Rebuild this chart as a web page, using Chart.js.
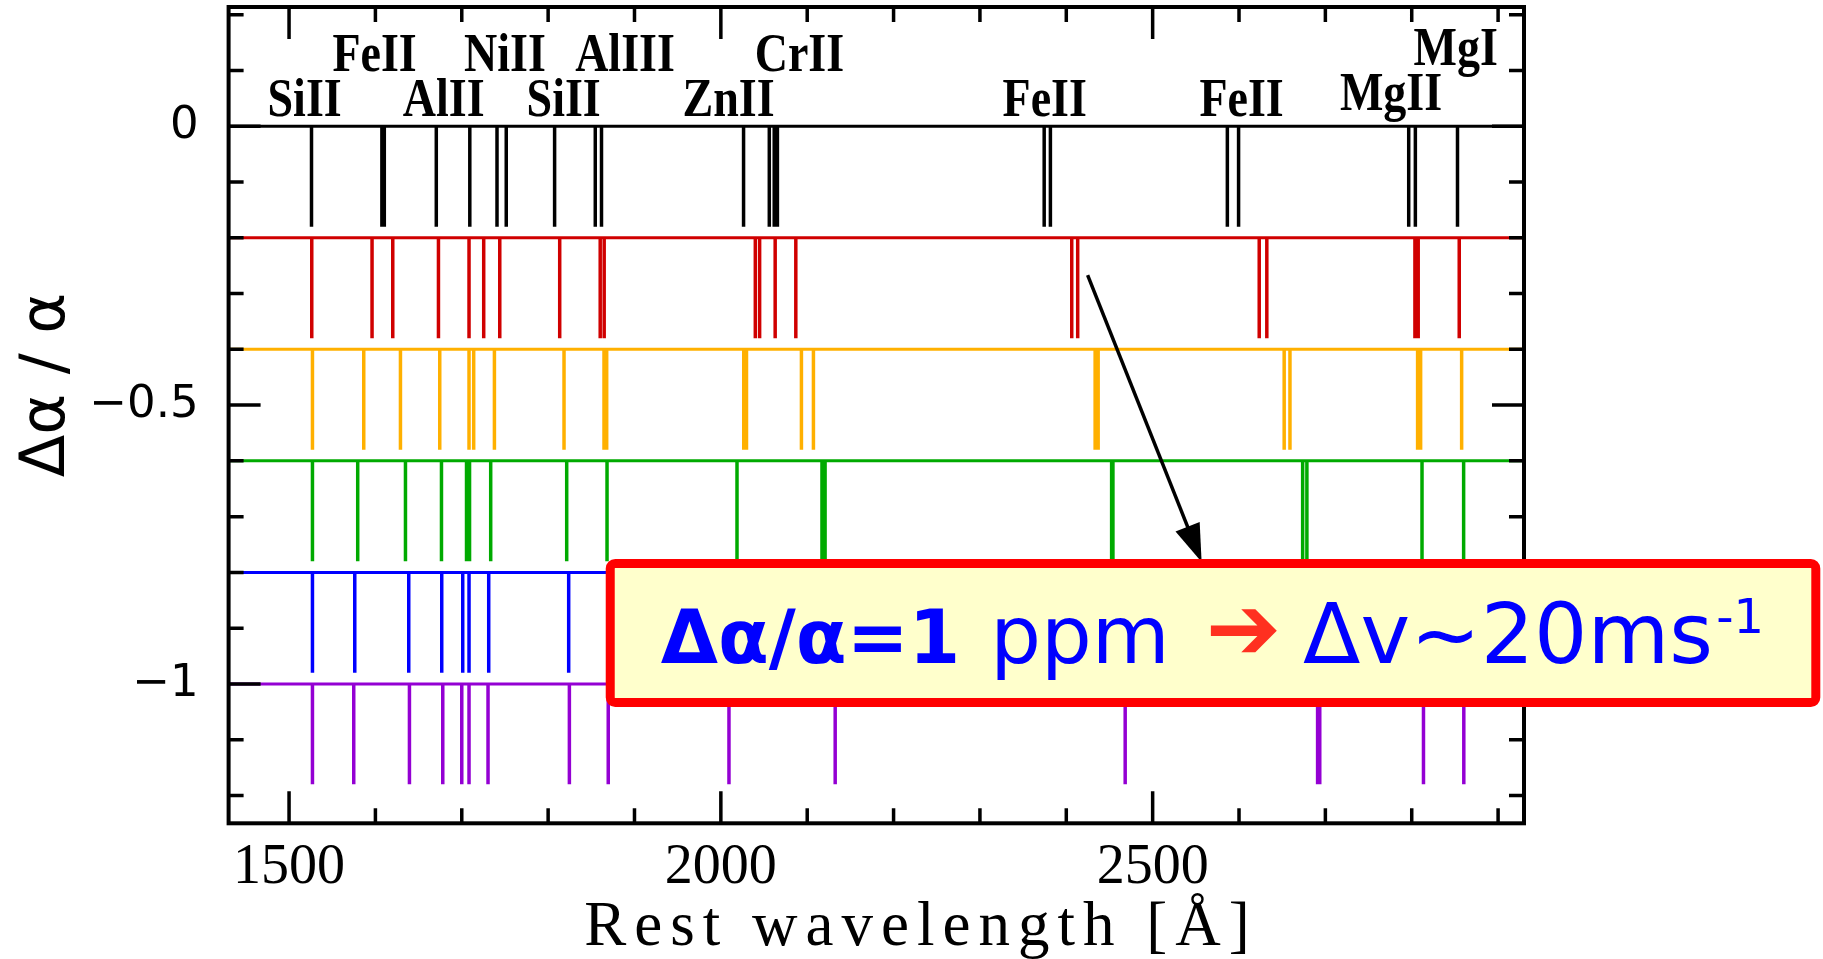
<!DOCTYPE html>
<html>
<head>
<meta charset="utf-8">
<title>Δα/α line shifts</title>
<script src="https://cdn.jsdelivr.net/npm/chart.js@4.4.1/dist/chart.umd.min.js"></script>
<style>
  html, body { margin: 0; padding: 0; background: #ffffff; }
  canvas { display: block; }
</style>
</head>
<body>
<canvas id="grafico" width="1823" height="959"></canvas>
<script>
// Filas: valor de Δα/α de cada espectro y color con que se dibuja
const desplazamientos = [0, -0.2, -0.4, -0.6, -0.8, -1.0];
const coloresFila = ['#000000', '#d00000', '#ffb000', '#00aa00', '#0000ff', '#9400d3'];
const profundidad = 0.18;

// Posiciones (Å) de las líneas de absorción en cada fila
const lineasFila0 = [1526.0, 1607.5, 1610.3, 1670.5, 1709.3, 1740.8, 1751.5, 1807.5, 1854.6, 1861.8, 2026.3, 2056.1, 2061.8, 2065.5, 2374.4, 2381.6, 2586.5, 2599.5, 2796.5, 2804.2, 2853.0];
const lineasFila1 = [1526.3, 1596.1, 1620.1, 1673.0, 1708.4, 1725.4, 1744.0, 1813.4, 1860.3, 1864.9, 2039.9, 2044.9, 2062.9, 2086.8, 2406.3, 2413.2, 2623.4, 2632.2, 2803.7, 2807.5, 2855.0];
const lineasFila2 = [1527.1, 1586.5, 1629.0, 1674.5, 1708.4, 1713.8, 1737.8, 1818.4, 1864.7, 1867.8, 2026.5, 2029.7, 2093.3, 2107.2, 2433.4, 2436.9, 2652.3, 2659.0, 2806.8, 2810.3, 2857.8];
const lineasFila3 = [1527.1, 1579.5, 1634.8, 1676.5, 1705.5, 1709.0, 1733.5, 1821.5, 1868.2, 2018.7, 2117.1, 2120.7, 2452.5, 2454.0, 2673.7, 2678.6, 2811.9, 2860.1];
const lineasFila4 = [1527.1, 1576.1, 1638.6, 1676.8, 1701.1, 1708.4, 1731.2, 1823.8];
const lineasFila5 = [1527.1, 1574.9, 1639.4, 1678.0, 1700.0, 1708.4, 1730.4, 1824.6, 1869.6, 2009.4, 2132.4, 2468.2, 2691.0, 2693.5, 2813.6, 2860.3];
const filas = [lineasFila0, lineasFila1, lineasFila2, lineasFila3, lineasFila4, lineasFila5];

// Nombres de los iones encima del espectro de referencia
const iones = ['SiII', 'FeII', 'AlII', 'NiII', 'SiII', 'AlIII', 'ZnII', 'CrII', 'FeII', 'FeII', 'MgII', 'MgI'];
const ionesX = [1518, 1599, 1679, 1750, 1818, 1889, 2009, 2091, 2375, 2603, 2776, 2851];
const ionesY = [0.019, 0.099, 0.019, 0.099, 0.019, 0.099, 0.019, 0.099, 0.019, 0.019, 0.029, 0.110];

// Ejes
const xMin = 1430, xMax = 2930;
const yMin = -1.25, yMax = 0.214;
const xMarcas = [1500, 2000, 2500];
const xMarcasMenores = [1500, 1600, 1700, 1800, 1900, 2000, 2100, 2200, 2300, 2400, 2500, 2600, 2700, 2800, 2900];
const yMarcas = [0, -0.5, -1];
const yMarcasMenores = [0.2, 0.1, 0, -0.1, -0.2, -0.3, -0.4, -0.5, -0.6, -0.7, -0.8, -0.9, -1, -1.1, -1.2];

const datasets = [];
filas.forEach((lineas, i) => {
    const y0 = desplazamientos[i];
    datasets.push({
        data: [{ x: xMin, y: y0 }, { x: xMax, y: y0 }],
        borderColor: coloresFila[i],
        borderWidth: 3,
        showLine: true,
        pointRadius: 0
    });
    const puntos = [];
    lineas.forEach(l => {
        puntos.push({ x: l, y: y0 }, { x: l, y: y0 - profundidad }, { x: l, y: null });
    });
    datasets.push({
        data: puntos,
        borderColor: coloresFila[i],
        borderWidth: 3.5,
        showLine: true,
        spanGaps: false,
        pointRadius: 0
    });
});

// Marco con marcas hacia dentro en los cuatro lados
const pluginMarco = {
    id: 'marco',
    afterDatasetsDraw: (chart) => {
        const { ctx, chartArea: { left, right, top, bottom }, scales: { x, y } } = chart;
        ctx.save();
        ctx.strokeStyle = '#000';
        ctx.lineWidth = 3.5;
        ctx.beginPath();
        xMarcasMenores.forEach(v => {
            const px = x.getPixelForValue(v);
            const largo = xMarcas.includes(v) ? 32 : 15;
            ctx.moveTo(px, bottom); ctx.lineTo(px, bottom - largo);
            ctx.moveTo(px, top); ctx.lineTo(px, top + largo);
        });
        yMarcasMenores.forEach(v => {
            const py = y.getPixelForValue(v);
            const largo = yMarcas.includes(v) ? 32 : 15;
            ctx.moveTo(left, py); ctx.lineTo(left + largo, py);
            ctx.moveTo(right, py); ctx.lineTo(right - largo, py);
        });
        ctx.stroke();
        ctx.lineWidth = 4;
        ctx.strokeRect(left, top, right - left, bottom - top);
        ctx.restore();
    }
};

// Etiquetas, títulos, flecha y recuadro
const pluginAnotaciones = {
    id: 'anotaciones',
    afterDraw: (chart) => {
        const { ctx, scales: { x, y } } = chart;
        ctx.save();
        ctx.fillStyle = '#000';

        // iones
        ctx.font = 'bold 46px "Liberation Serif"';
        ctx.textAlign = 'center';
        ctx.textBaseline = 'alphabetic';
        iones.forEach((nombre, i) => {
            ctx.save();
            ctx.translate(x.getPixelForValue(ionesX[i]), y.getPixelForValue(ionesY[i]));
            ctx.scale(1, 1.18);
            ctx.fillText(nombre, 0, 0);
            ctx.restore();
        });

        // título eje y
        ctx.save();
        ctx.translate(48, 385);
        ctx.rotate(-Math.PI / 2);
        ctx.font = '62px "DejaVu Sans"';
        ctx.textBaseline = 'middle';
        ctx.fillText('Δα / α', 0, 0);
        ctx.restore();

        // título eje x
        ctx.save();
        ctx.font = '63px "Liberation Serif"';
        ctx.letterSpacing = '8px';
        ctx.textAlign = 'center';
        ctx.fillText('Rest wavelength [Å]', 921, 945);
        ctx.restore();

        // flecha
        const ax0 = x.getPixelForValue(2424.7), ay0 = y.getPixelForValue(-0.2667);
        const ax1 = x.getPixelForValue(2556.7), ay1 = y.getPixelForValue(-0.7815);
        const d = Math.hypot(ax1 - ax0, ay1 - ay0);
        const ux = (ax1 - ax0) / d, uy = (ay1 - ay0) / d;
        ctx.strokeStyle = '#000';
        ctx.lineWidth = 3.5;
        ctx.beginPath();
        ctx.moveTo(ax0, ay0);
        ctx.lineTo(ax1 - 30 * ux, ay1 - 30 * uy);
        ctx.stroke();
        const bx = ax1 - 38 * ux, by = ay1 - 38 * uy;
        ctx.beginPath();
        ctx.moveTo(ax1, ay1);
        ctx.lineTo(bx - 13 * uy, by + 13 * ux);
        ctx.lineTo(bx + 13 * uy, by - 13 * ux);
        ctx.closePath();
        ctx.fill();

        // recuadro
        const bl = x.getPixelForValue(1866.7), br = x.getPixelForValue(3273.1);
        const bt = y.getPixelForValue(-0.776), bb = y.getPixelForValue(-1.0414);
        ctx.beginPath();
        ctx.roundRect(bl + 4.5, bt + 4.5, br - bl - 9, bb - bt - 9, 5);
        ctx.fillStyle = '#ffffcc';
        ctx.fill();
        ctx.lineWidth = 9;
        ctx.strokeStyle = '#ff0000';
        ctx.stroke();

        ctx.textAlign = 'left';
        ctx.textBaseline = 'alphabetic';
        ctx.fillStyle = '#0000ff';
        const base = bt + 104;
        let cx = bl + 55;
        ctx.font = 'bold 74px "DejaVu Sans"';
        ctx.fillText('Δα/α=1', cx, base);
        cx += ctx.measureText('Δα/α=1').width + 30;
        ctx.font = '80px "DejaVu Sans"';
        ctx.fillText('ppm', cx, base);
        cx += ctx.measureText('ppm').width + 36;
        ctx.fillStyle = '#ff3020';
        ctx.font = '90px "DejaVu Sans"';
        ctx.textBaseline = 'middle';
        ctx.fillText('➔', cx, base - 27);
        cx += ctx.measureText('➔').width + 22;
        ctx.textBaseline = 'alphabetic';
        ctx.fillStyle = '#0000ff';
        ctx.font = '84px "DejaVu Sans"';
        ctx.fillText('Δv~20ms', cx, base);
        cx += ctx.measureText('Δv~20ms').width + 3;
        ctx.font = '48px "DejaVu Sans"';
        ctx.fillText('-1', cx, base - 30);
        ctx.restore();
    }
};

const ctx = document.getElementById('grafico').getContext('2d');
new Chart(ctx, {
    type: 'scatter',
    data: { datasets: datasets },
    plugins: [pluginMarco, pluginAnotaciones],
    options: {
        responsive: false,
        animation: false,
        devicePixelRatio: 1,
        layout: { padding: { left: 0, right: 299, top: 7, bottom: 0 } },
        plugins: { legend: { display: false }, tooltip: { enabled: false } },
        scales: {
            x: {
                type: 'linear',
                min: xMin,
                max: xMax,
                afterBuildTicks: (s) => { s.ticks = xMarcas.map(v => ({ value: v })); },
                afterFit: (s) => { s.height = 135.7; s.paddingLeft = 0; s.paddingRight = 0; },
                grid: { display: false, drawTicks: false },
                border: { display: false },
                ticks: {
                    color: '#000',
                    padding: 11,
                    maxRotation: 0,
                    autoSkip: false,
                    font: { family: 'Liberation Serif', size: 56 },
                    callback: (v) => String(v)
                }
            },
            y: {
                type: 'linear',
                min: yMin,
                max: yMax,
                afterBuildTicks: (s) => { s.ticks = yMarcas.map(v => ({ value: v })); },
                afterFit: (s) => { s.width = 228.6; s.paddingTop = 0; s.paddingBottom = 0; },
                grid: { display: false, drawTicks: false },
                border: { display: false },
                ticks: {
                    color: '#000',
                    padding: 30,
                    font: { family: 'DejaVu Sans', size: 45 },
                    callback: (v) => (v === 0 ? '0' : String(v).replace('-', '\u2212'))
                }
            }
        }
    }
});
</script>
</body>
</html>
